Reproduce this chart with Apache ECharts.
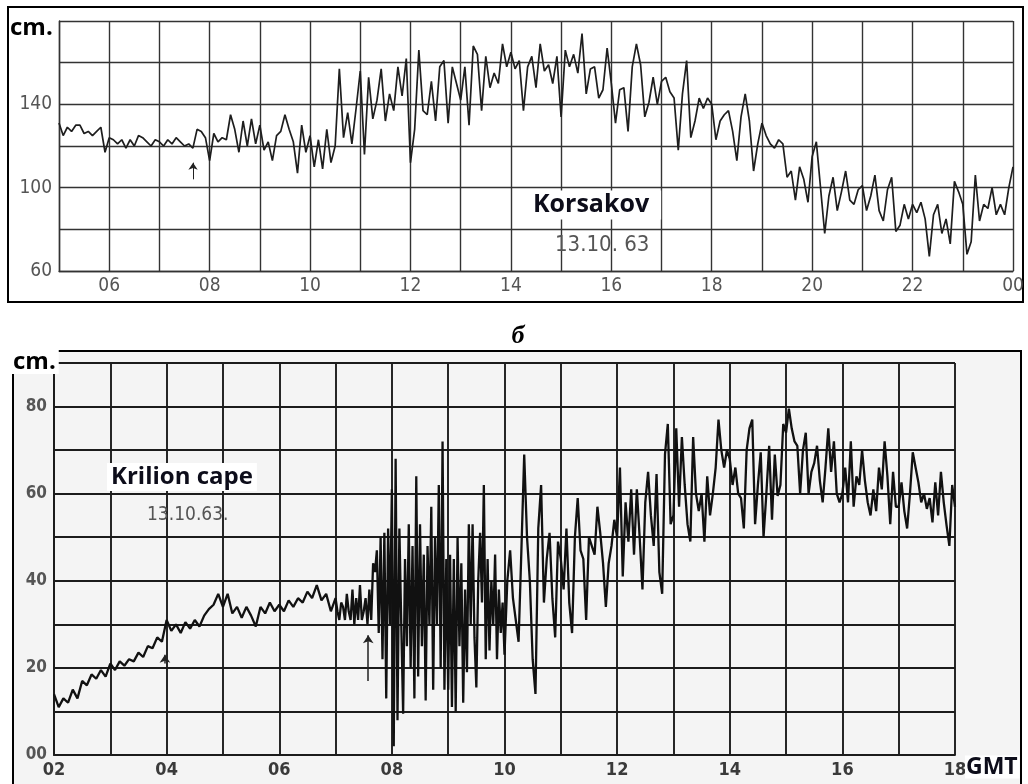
<!DOCTYPE html>
<html>
<head>
<meta charset="utf-8">
<script src="https://cdn.jsdelivr.net/npm/echarts@6/dist/echarts.min.js"></script>
<style>
  html, body { margin: 0; padding: 0; background: #fff; }
  #chart { width: 1028px; height: 784px; }
</style>
</head>
<body>
<div id="chart"></div>
<script>
// Korsakov, 13.10.63 — level in cm, one value every 5 minutes
var korsakov0508 = [
  131,125,129,127,130,130,126,127,125,127,129,117,
  124,123,121,123,119,123,120,125,124,122,120,123,
  122,120,123,121,124,122,120,121,119,128,127,124,
  113,126,122,124,123,135,128,117,132,120,133,121
];
var korsakov0912 = [
  130,118,122,113,125,127,135,128,122,107,130,117,
  125,110,123,109,128,112,120,157,124,136,121,138,
  156,116,153,133,142,157,132,145,137,158,144,162,
  112,128,166,137,135,151,132,158,161,131,158,150
];
var korsakov1316 = [
  142,158,130,168,164,137,163,148,155,150,169,158,
  165,157,161,137,158,163,148,169,156,159,150,163,
  134,166,158,164,155,174,145,157,158,143,147,167,
  150,131,147,148,127,158,169,159,134,141,153,140
];
var korsakov1720 = [
  151,153,146,143,118,145,161,124,132,143,138,143,
  140,123,132,135,137,127,113,134,145,132,108,121,
  131,125,121,119,123,121,105,108,94,110,104,93,
  115,122,100,78,96,105,89,98,108,94,92,99
];
var korsakov2123 = [
  101,89,96,106,89,84,99,105,79,82,92,85,
  92,88,93,85,67,87,92,78,85,73,103,98,
  92,68,74,106,84,92,90,100,87,92,87,100
];
var korsakovEnd = 110;

// Krilion cape, 13.10.63
var krilion0206 = [            // every 5 minutes
  14,11,13,12,15,13,17,16,18.5,17.5,19.5,18,
  21,19.5,21.5,20.5,22,21.5,23.5,22.5,25,24.5,27,26,
  31,28.5,30,28,30.5,29,31,29.5,32,33.5,34.5,37,
  34,37,32.5,34,31.5,34,32,29.5,34,32.5,35,33,
  34.5,33,35.5,34,36,35,37.5,36,39,35.5,37,33
];
var krilion0709 = [            // every 2 minutes
  36,33,31,35,34,31,37,33,31,38,30,36,31,39,31,33,36,30,38,31,
  44,42,47,28,50,22,51,13,52,30,
  61,2,68,8,52,30,9.5,45,25,53,20,48,13,64,18,53,25,46,12.5,48,30,57,15,50,30,62,20,72,15,45,
  15,46,11,45,10,50,25,44,12,38,19,53,30,53,27,15.5,40,51,35,62,22,45,24,40,30,46,22,38,28,35
];
var krilion1013 = [            // every 3 minutes
  23,40,47,36,31,26,47,69,50,40,22,14,52,62,35,45,51,36,27,49,
  45,38,52,35,28,50,59,47,45,31,50,48,46,57,51,44,34,44,48,54,
  50,66,41,58,49,61,46,61,50,38,58,65,55,48,64.5,42,37,69,76,53,
  55,75,57,73,62,53,49,73,60,56,60,49,64,55,60,66,77,70,66,70
];
var krilion1417 = [            // every 3 minutes
  68,62,66,60,59,52,70,75,77,53,62,69.5,50,60,71,54,69,59.5,62,76,
  74,79.5,75,72,71,60,70,74,60,65,67,71,63,58,66,75,65,72,60,58,
  60,66,58,72,57,64,62,70,63,58,55,61,56,66,61,72,64,53,65,57,
  57,62.6,56,52,60,69.5,66,62.6,58,60,56.5,59,53.4,62.6,55,65,58,52.7,48,62
];
var krilionEnd = 57;

var korsakovYLabels = [60, 100, 140];
var krilionYLabels = [0, 20, 40, 60, 80];

function seg(startHour, stepMin, vals) {
  return vals.map(function (v, i) { return [startHour + i * stepMin / 60, v]; });
}
function pad(h) { h = h % 24; return (h < 10 ? '0' : '') + h; }

var korsakovData = [].concat(
  seg(5, 5, korsakov0508), seg(9, 5, korsakov0912), seg(13, 5, korsakov1316),
  seg(17, 5, korsakov1720), seg(21, 5, korsakov2123), [[24, korsakovEnd]]
);
var krilionData = [].concat(
  seg(2, 5, krilion0206), seg(7, 2, krilion0709), seg(10, 3, krilion1013),
  seg(14, 3, krilion1417), [[18, krilionEnd]]
);

var chart = echarts.init(document.getElementById('chart'));

var narrow = '"Liberation Sans Narrow", "DejaVu Sans Condensed", sans-serif';
var topGrid = { color: '#333', width: 1.4 };
var botGrid = { color: '#1c1c1c', width: 1.9 };

var option = {
  animation: false,
  backgroundColor: '#fff',
  grid: [
    { left: 59, top: 21, width: 954, height: 250 },
    { left: 54, top: 363, width: 901, height: 392 }
  ],
  xAxis: [
    {
      gridIndex: 0, type: 'value', min: 5, max: 24, interval: 1,
      axisLine: { show: true, lineStyle: topGrid },
      axisTick: { show: false },
      splitLine: { show: true, lineStyle: topGrid },
      axisLabel: {
        margin: 6, color: '#555', fontSize: 19, fontFamily: narrow,
        showMaxLabel: true, showMinLabel: true,
        formatter: function (v) { return v % 2 === 0 ? pad(v) : ''; }
      }
    },
    {
      gridIndex: 1, type: 'value', min: 2, max: 18, interval: 1,
      axisLine: { show: true, lineStyle: botGrid },
      axisTick: { show: false },
      splitLine: { show: true, lineStyle: botGrid },
      axisLabel: {
        margin: 6, color: '#3a3a3a', fontSize: 18, fontWeight: 'bold', fontFamily: narrow,
        showMaxLabel: true, showMinLabel: true,
        formatter: function (v) { return v % 2 === 0 ? pad(v) : ''; }
      }
    }
  ],
  yAxis: [
    {
      gridIndex: 0, type: 'value', min: 60, max: 180, interval: 20,
      axisLine: { show: true, lineStyle: topGrid },
      axisTick: { show: false },
      splitLine: { show: true, lineStyle: topGrid },
      axisLabel: {
        margin: 7, color: '#555', fontSize: 19, fontFamily: narrow,
        formatter: function (v) { return korsakovYLabels.indexOf(v) >= 0 ? String(v) : ''; }
      }
    },
    {
      gridIndex: 1, type: 'value', min: 0, max: 90, interval: 10,
      axisLine: { show: true, lineStyle: botGrid },
      axisTick: { show: false },
      splitLine: { show: true, lineStyle: botGrid },
      axisLabel: {
        margin: 7, color: '#555', fontSize: 17, fontWeight: 'bold', fontFamily: narrow,
        formatter: function (v) {
          return krilionYLabels.indexOf(v) >= 0 ? (v === 0 ? '00' : String(v)) : '';
        }
      }
    }
  ],
  series: [
    {
      name: 'Korsakov', type: 'line', xAxisIndex: 0, yAxisIndex: 0,
      data: korsakovData, showSymbol: false, silent: true,
      lineStyle: { color: '#1e1e1e', width: 1.7 },
      markLine: {
        silent: true, symbol: ['none', 'arrow'], symbolSize: 7,
        lineStyle: { color: '#222', width: 1, type: 'solid' },
        label: { show: false },
        data: [[{ coord: [7.67, 104] }, { coord: [7.67, 112] }]]
      }
    },
    {
      name: 'Krilion cape', type: 'line', xAxisIndex: 1, yAxisIndex: 1,
      data: krilionData, showSymbol: false, silent: true,
      lineStyle: { color: '#111', width: 2.3 },
      markLine: {
        silent: true, symbol: ['none', 'arrow'], symbolSize: 8,
        lineStyle: { color: '#222', width: 1.5, type: 'solid' },
        label: { show: false },
        data: [
          [{ coord: [7.58, 17] }, { coord: [7.58, 27.5] }],
          [{ coord: [3.97, 21] }, { coord: [3.97, 23] }]
        ]
      }
    }
  ],
  graphic: [
    { type: 'rect', z: -10, shape: { x: 8, y: 7, width: 1015, height: 295 },
      style: { fill: '#fff', stroke: '#000', lineWidth: 2 } },
    { type: 'rect', z: -10, shape: { x: 13, y: 351, width: 1008, height: 440 },
      style: { fill: '#f4f4f4', stroke: '#000', lineWidth: 2 } },
    { type: 'text', z: 20, style: { x: 9, y: 28, text: 'cm.', font: 'bold 24px "Open Sans"',
      fill: '#000', backgroundColor: '#fff', padding: [0, 3, 0, 1],
      align: 'left', verticalAlign: 'middle', textAlign: 'left', textVerticalAlign: 'middle' } },
    { type: 'text', z: 20, style: { x: 12, y: 362, text: 'cm.', font: 'bold 24px "Open Sans"',
      fill: '#000', backgroundColor: '#fff', padding: [0, 3, 0, 1],
      align: 'left', verticalAlign: 'middle', textAlign: 'left', textVerticalAlign: 'middle' } },
    { type: 'text', z: 20, style: { x: 530, y: 205, text: 'Korsakov', font: 'bold 25px "Open Sans"',
      fill: '#0d0d1a', backgroundColor: '#fff', padding: [2, 12, 2, 3],
      align: 'left', verticalAlign: 'middle', textAlign: 'left', textVerticalAlign: 'middle' } },
    { type: 'text', z: 20, style: { x: 555, y: 245, text: '13.10. 63', font: '22px ' + narrow,
      fill: '#555', align: 'left', verticalAlign: 'middle', textAlign: 'left', textVerticalAlign: 'middle' } },
    { type: 'text', z: 20, style: { x: 107, y: 477, text: 'Krilion cape', font: 'bold 24px "Open Sans"',
      fill: '#0d0d1a', backgroundColor: '#fff', padding: [2, 4, 2, 4],
      align: 'left', verticalAlign: 'middle', textAlign: 'left', textVerticalAlign: 'middle' } },
    { type: 'text', z: 20, style: { x: 147, y: 515, text: '13.10.63.', font: '19px ' + narrow,
      fill: '#555', align: 'left', verticalAlign: 'middle', textAlign: 'left', textVerticalAlign: 'middle' } },
    { type: 'text', z: 20, style: { x: 518, y: 336, text: 'б', font: 'italic bold 26px "Liberation Serif"',
      fill: '#000', align: 'center', verticalAlign: 'middle', textAlign: 'center', textVerticalAlign: 'middle' } },
    { type: 'text', z: 20, style: { x: 965, y: 767, text: 'GMT', font: 'bold 23px "Open Sans"',
      fill: '#0d0d1a', backgroundColor: '#fff', padding: [0, 2, 0, 1],
      align: 'left', verticalAlign: 'middle', textAlign: 'left', textVerticalAlign: 'middle' } }
  ]
};

chart.setOption(option);
</script>
</body>
</html>
